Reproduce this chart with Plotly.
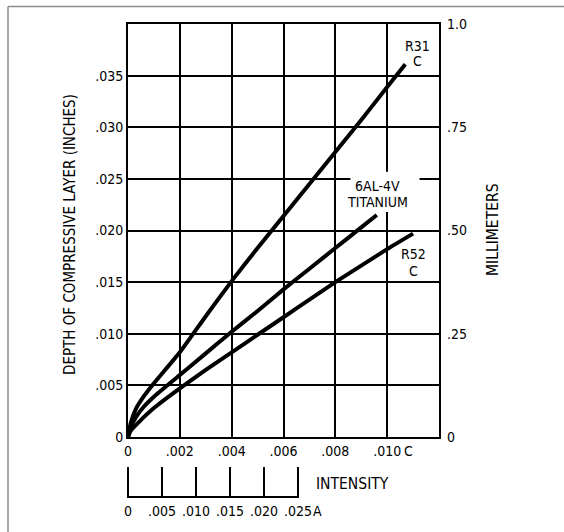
import plotly.graph_objects as go

# ---------------- data ----------------
x_tickvals = [0, 0.002, 0.004, 0.006, 0.008, 0.010]
x_ticktext = ["0", ".002", ".004", ".006", ".008", ".010"]
y_tickvals = [0, 0.005, 0.010, 0.015, 0.020, 0.025, 0.030, 0.035]
y_ticktext = ["0", ".005", ".010", ".015", ".020", ".025", ".030", ".035"]
mm_tickvals = [0, 0.25, 0.50, 0.75, 1.0]
mm_ticktext = ["0", ".25", ".50", ".75", "1.0"]
a_tickvals = [0, 0.005, 0.010, 0.015, 0.020, 0.025]
a_ticktext = ["0", ".005", ".010", ".015", ".020", ".025"]

r31_x = [0, 0.0001, 0.0003, 0.0006, 0.001, 0.002, 0.003, 0.004, 0.005, 0.006, 0.007, 0.008, 0.009, 0.010, 0.0107]
r31_y = [0, 0.0013, 0.0027, 0.0039, 0.0052, 0.0082, 0.0117, 0.0151, 0.0183, 0.0214, 0.0245, 0.0276, 0.0307, 0.0339, 0.0361]

ti_x = [0, 0.0001, 0.0003, 0.0006, 0.001, 0.002, 0.003, 0.004, 0.005, 0.006, 0.007, 0.008, 0.009, 0.0096]
ti_y = [0, 0.0009, 0.0019, 0.0029, 0.0039, 0.0060, 0.0081, 0.0102, 0.0122, 0.0143, 0.0163, 0.0183, 0.0203, 0.0215]

r52_x = [0, 0.0001, 0.0004, 0.001, 0.002, 0.003, 0.004, 0.005, 0.006, 0.007, 0.008, 0.009, 0.010, 0.011]
r52_y = [0, 0.0006, 0.0014, 0.0028, 0.0047, 0.0065, 0.0082, 0.0099, 0.0116, 0.0133, 0.0150, 0.0166, 0.0182, 0.0197]

# curve labels (text, x, y)
labels = [
    ("R31", 0.01116, 0.0379),
    ("C", 0.01116, 0.0364),
    ("6AL-4V", 0.00961, 0.0243),
    ("TITANIUM", 0.00961, 0.0228),
    ("R52", 0.01103, 0.0177),
    ("C", 0.01103, 0.0161),
]

FONT = "Liberation Sans Narrow, DejaVu Sans Condensed, Arial Narrow, sans-serif"
FS = 14

W, H = 564, 532
ml, mr, mt, mb = 118, 125, 24, 20
pw = W - ml - mr
ph = H - mt - mb
plot_left_px, plot_right_px = 128, 439
plot_top_px, plot_bottom_px = 24, 437


def px_x(p):
    return (p - ml) / pw


def px_y(p):
    return (H - mb - p) / ph


x_dom = [px_x(plot_left_px), px_x(plot_right_px)]
y_dom = [px_y(plot_bottom_px), px_y(plot_top_px)]
a_pad = 0.00015
a_scale = (298 - 128) / 0.025  # px per A unit
a_dom = [px_x(128 - a_pad * a_scale), px_x(298 + a_pad * a_scale)]
a_pos = px_y(497)

fig = go.Figure()
for xs, ys in [(r31_x, r31_y), (ti_x, ti_y), (r52_x, r52_y)]:
    fig.add_trace(go.Scatter(x=xs, y=ys, mode="lines",
                             line=dict(color="black", width=4, shape="spline", smoothing=0.5),
                             showlegend=False, hoverinfo="skip"))
# invisible traces to activate the secondary axes
fig.add_trace(go.Scatter(x=[0, 0.025], y=[None, None], xaxis="x2", yaxis="y",
                         showlegend=False, hoverinfo="skip", mode="lines"))
fig.add_trace(go.Scatter(x=[0, 0.012], y=[None, None], xaxis="x", yaxis="y2",
                         showlegend=False, hoverinfo="skip", mode="lines"))

axis_common = dict(showline=True, linecolor="black", linewidth=2, zeroline=False,
                   tickfont=dict(family=FONT, size=FS, color="black"))

fig.update_layout(
    width=W, height=H,
    margin=dict(l=ml, r=mr, t=mt, b=mb),
    paper_bgcolor="white", plot_bgcolor="rgba(0,0,0,0)",
    font=dict(family=FONT, size=FS, color="black"),
    xaxis=dict(range=[0, 0.012], domain=x_dom, anchor="y", mirror=True,
               tickvals=x_tickvals, ticktext=x_ticktext, ticks="", ticklabelstandoff=0,
               showgrid=True, gridcolor="black", gridwidth=1.5, **axis_common),
    yaxis=dict(range=[0, 0.040], domain=y_dom, anchor="x", mirror=True,
               tickvals=y_tickvals, ticktext=y_ticktext, ticks="", ticklabelstandoff=0,
               showgrid=True, gridcolor="black", gridwidth=1.5, **axis_common),
    yaxis2=dict(range=[0, 1.0], overlaying="y", side="right", anchor="x",
                tickvals=mm_tickvals, ticktext=mm_ticktext, ticks="", ticklabelstandoff=7,
                showgrid=False, showline=False, zeroline=False,
                tickfont=dict(family=FONT, size=FS, color="black")),
    xaxis2=dict(range=[-a_pad, 0.025 + a_pad], domain=a_dom, anchor="free", position=a_pos,
                tickvals=a_tickvals, ticktext=a_ticktext, ticks="inside",
                ticklen=29, tickwidth=1.5, tickcolor="black", ticklabelstandoff=1,
                showgrid=False, showline=True, linecolor="black", linewidth=1.5,
                zeroline=False, tickfont=dict(family=FONT, size=FS, color="black")),
)

ann = []
for t, x, y in labels:
    ann.append(dict(text=t, x=x, y=y, xref="x", yref="y", showarrow=False,
                    font=dict(family=FONT, size=FS, color="black")))
ann += [
    dict(text="DEPTH OF COMPRESSIVE LAYER (INCHES)", textangle=-90, xref="paper", yref="paper",
         x=px_x(70), y=px_y(235), showarrow=False,
         xanchor="center", yanchor="middle", font=dict(family=FONT, size=15)),
    dict(text="MILLIMETERS", textangle=-90, xref="paper", yref="paper",
         x=px_x(493), y=px_y(230), showarrow=False,
         xanchor="center", yanchor="middle", font=dict(family=FONT, size=15.5)),
    dict(text="C", xref="paper", yref="paper", x=px_x(408), y=px_y(451),
         showarrow=False, xanchor="center", yanchor="middle", font=dict(family=FONT, size=FS)),
    dict(text="INTENSITY", xref="paper", yref="paper", x=px_x(352), y=px_y(484),
         showarrow=False, xanchor="center", yanchor="middle", font=dict(family=FONT, size=15.5)),
    dict(text="A", xref="paper", yref="paper", x=px_x(317), y=px_y(511),
         showarrow=False, xanchor="center", yanchor="middle", font=dict(family=FONT, size=FS)),
]
fig.update_layout(annotations=ann)

# white patch behind titanium label (covers grid only)
fig.add_shape(type="rect", xref="x", yref="y", x0=0.00858, x1=0.01125, y0=0.0218, y1=0.0257,
              fillcolor="white", line=dict(width=0), layer="between")

# outer page frame (top and left edges)
fig.add_shape(type="line", xref="paper", yref="paper", x0=px_x(8), x1=px_x(W), y0=px_y(6.5), y1=px_y(6.5),
              line=dict(color="#8a8a8a", width=1.5))
fig.add_shape(type="line", xref="paper", yref="paper", x0=px_x(8), x1=px_x(8), y0=px_y(6.5), y1=px_y(H),
              line=dict(color="#8a8a8a", width=1.5))

fig.write_html("out.html", config={"displayModeBar": False},
               post_script="document.body.style.margin='0';document.body.style.overflow='hidden';")
